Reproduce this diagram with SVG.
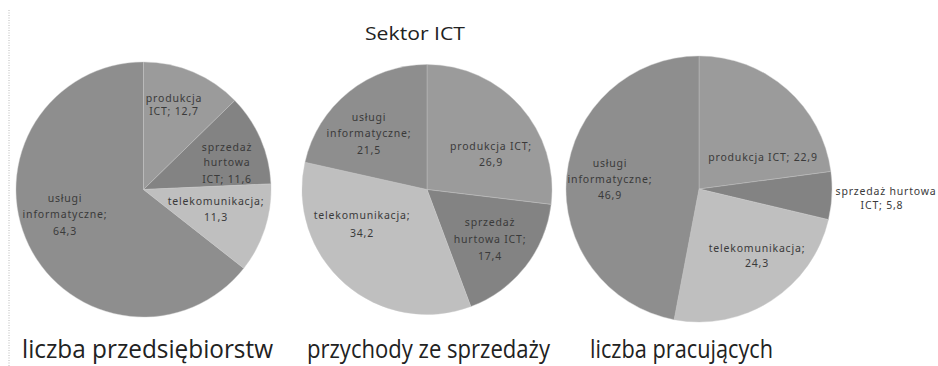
<svg xmlns="http://www.w3.org/2000/svg" width="938" height="366" viewBox="0 0 938 366">
<style>
.bg{fill:#ffffff}
.uslugi{fill:#8e8e8e}
.prod{fill:#9b9b9b}
.sprz{fill:#838383}
.tele{fill:#bfbfbf}
.sl{stroke:#c8c8c8;stroke-width:0.6;stroke-opacity:0.7}
.lbl{font-family:"Noto Sans","Open Sans",sans-serif;font-size:10.5px;fill:#3a3a3a;text-anchor:middle;letter-spacing:0.8px}
.cap{font-family:"Open Sans","Noto Sans",sans-serif;font-size:25px;fill:#222222}
.title{font-family:"Open Sans","Noto Sans",sans-serif;font-size:19px;fill:#222222;text-anchor:middle}
</style>
<rect class="bg" x="0" y="0" width="938" height="366"/>
<line x1="9" y1="10" x2="9" y2="366" stroke="#b8b8b8" stroke-width="1" stroke-dasharray="1,1.5"/>
<g id="title"><text class="title" x="415" y="40" textLength="100" lengthAdjust="spacingAndGlyphs">Sektor ICT</text></g>

<g id="pie-przedsiebiorstwa">
  <g id="p1-uslugi"><path class="uslugi sl" d="M143.5,189.5 L243.75,268.28 A127.5,127.5 0 1 1 143.5,62 Z"/>
    <text class="lbl" x="65" y="202">usługi</text><text class="lbl" x="65" y="218">informatyczne;</text><text class="lbl" x="65" y="235">64,3</text></g>
  <g id="p1-produkcja"><path class="prod sl" d="M143.5,189.5 L143.5,62 A127.5,127.5 0 0 1 234.79,100.48 Z"/>
    <text class="lbl" x="174" y="102">produkcja</text><text class="lbl" x="174" y="115">ICT; 12,7</text></g>
  <g id="p1-sprzedaz"><path class="sprz sl" d="M143.5,189.5 L234.79,100.48 A127.5,127.5 0 0 1 270.88,183.89 Z"/>
    <text class="lbl" x="227" y="151">sprzedaż</text><text class="lbl" x="227" y="166">hurtowa</text><text class="lbl" x="227" y="183">ICT; 11,6</text></g>
  <g id="p1-telekom"><path class="tele sl" d="M143.5,189.5 L270.88,183.89 A127.5,127.5 0 0 1 243.75,268.28 Z"/>
    <text class="lbl" x="216" y="205">telekomunikacja;</text><text class="lbl" x="216" y="221">11,3</text></g>
</g>

<g id="pie-przychody">
  <g id="p2-produkcja"><path class="prod sl" d="M427,189.5 L427,64.5 A125,125 0 0 1 551.11,204.39 Z"/>
    <text class="lbl" x="491" y="150">produkcja ICT;</text><text class="lbl" x="491" y="166">26,9</text></g>
  <g id="p2-sprzedaz"><path class="sprz sl" d="M427,189.5 L551.11,204.39 A125,125 0 0 1 470.82,306.57 Z"/>
    <text class="lbl" x="490" y="226">sprzedaż</text><text class="lbl" x="490" y="243">hurtowa ICT;</text><text class="lbl" x="490" y="260">17,4</text></g>
  <g id="p2-telekom"><path class="tele sl" d="M427,189.5 L470.82,306.57 A125,125 0 0 1 305.01,162.23 Z"/>
    <text class="lbl" x="362" y="219">telekomunikacja;</text><text class="lbl" x="362" y="237">34,2</text></g>
  <g id="p2-uslugi"><path class="uslugi sl" d="M427,189.5 L305.01,162.23 A125,125 0 0 1 427,64.5 Z"/>
    <text class="lbl" x="369" y="121">usługi</text><text class="lbl" x="369" y="137">informatyczne;</text><text class="lbl" x="369" y="154">21,5</text></g>
</g>

<g id="pie-pracujacy">
  <g id="p3-produkcja"><path class="prod sl" d="M699,189 L699,56 A133,133 0 0 1 830.84,171.5 Z"/>
    <text class="lbl" x="763" y="161">produkcja ICT; 22,9</text></g>
  <g id="p3-sprzedaz"><path class="sprz sl" d="M699,189 L830.84,171.5 A133,133 0 0 1 828.42,219.64 Z"/>
    <text class="lbl" x="886" y="195">sprzedaż hurtowa</text><text class="lbl" x="882" y="209">ICT; 5,8</text></g>
  <g id="p3-telekom"><path class="tele sl" d="M699,189 L828.42,219.64 A133,133 0 0 1 674.08,319.64 Z"/>
    <text class="lbl" x="757" y="252">telekomunikacja;</text><text class="lbl" x="757" y="267">24,3</text></g>
  <g id="p3-uslugi"><path class="uslugi sl" d="M699,189 L674.08,319.64 A133,133 0 0 1 699,56 Z"/>
    <text class="lbl" x="610" y="167">usługi</text><text class="lbl" x="610" y="183">informatyczne;</text><text class="lbl" x="610" y="199">46,9</text></g>
</g>

<g id="captions">
  <text class="cap" x="22" y="358" textLength="251" lengthAdjust="spacingAndGlyphs">liczba przedsiębiorstw</text>
  <text class="cap" x="307" y="358" textLength="243" lengthAdjust="spacingAndGlyphs">przychody ze sprzedaży</text>
  <text class="cap" x="590" y="358" textLength="183" lengthAdjust="spacingAndGlyphs">liczba pracujących</text>
</g>
</svg>
